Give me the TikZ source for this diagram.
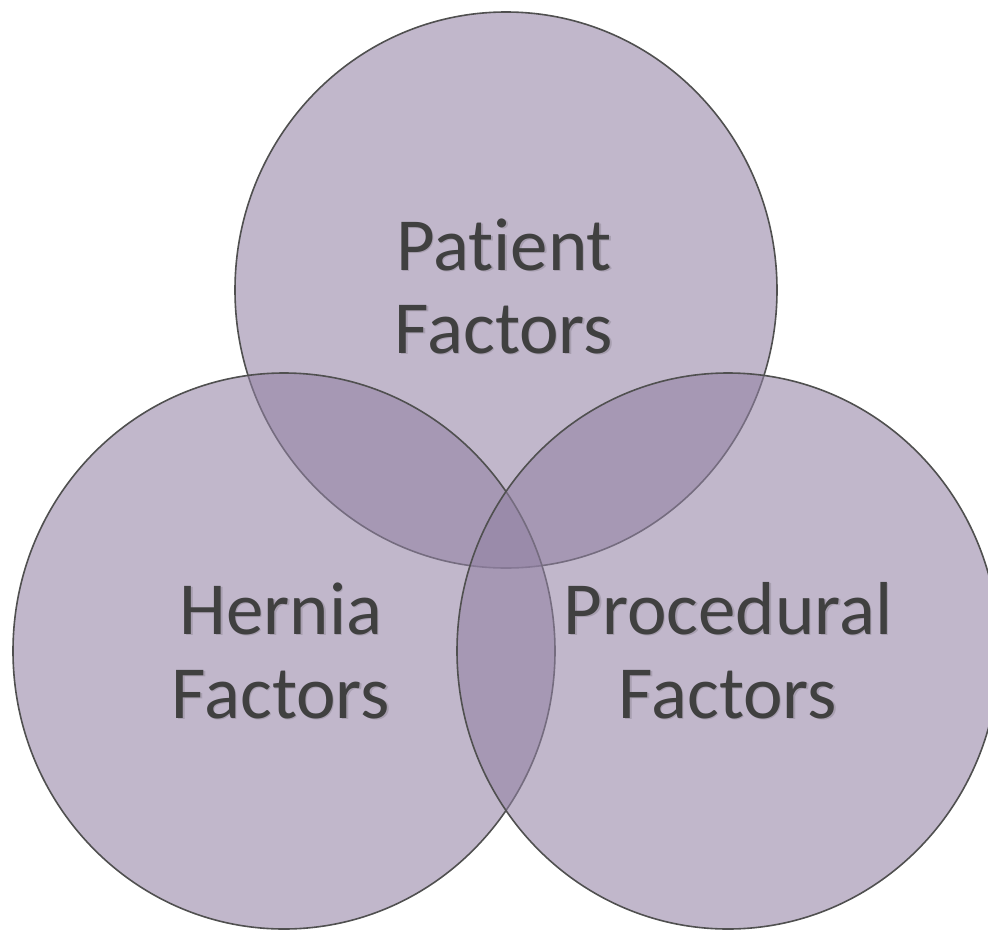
\documentclass[tikz,border=0pt]{standalone}
\usepackage{fontspec}
\setmainfont{Carlito}[Ligatures=NoCommon]
\usetikzlibrary{shapes.geometric}
\definecolor{vennfill}{RGB}{146,130,164}
\definecolor{vennline}{RGB}{80,80,80}
\definecolor{venntext}{RGB}{64,64,64}
\tikzset{
  venn/.style={ellipse, minimum width=542pt, minimum height=556pt, inner sep=0pt,
    fill=vennfill, fill opacity=0.57, draw=vennline, draw opacity=1, line width=1.6pt},
  lbl/.style={anchor=base, inner sep=0pt, text=venntext, font=\fontsize{75}{86}\selectfont},
  lblshadow/.style={anchor=base, inner sep=0pt, text=black, text opacity=0.13, font=\fontsize{75}{86}\selectfont}
}
\begin{document}
\begin{tikzpicture}[x=1pt,y=-1pt]
\useasboundingbox (0,0) rectangle (988,932);
\clip (0,0) rectangle (988,932);
\fill[white] (0,0) rectangle (988,932);
\node[venn] (top) at (506,290) {};
\node[venn] (left) at (284,651) {};
\node[venn] (right) at (728,651) {};
% text shadows
\node[lblshadow] (s1) at (505.5,271.5) {Patient};
\node[lblshadow] (s2) at (505.5,354.5) {Factors};
\node[lblshadow] (s3) at (282.5,635.5) {Hernia};
\node[lblshadow] (s4) at (282.5,719.5) {Factors};
\node[lblshadow] (s5) at (729.5,635.5) {Procedural};
\node[lblshadow] (s6) at (729.5,719.5) {Factors};
% labels
\node[lbl] (p1) at (504,270) {Patient};
\node[lbl] (p2) at (504,353) {Factors};
\node[lbl] (h1) at (281,634) {Hernia};
\node[lbl] (h2) at (281,718) {Factors};
\node[lbl] (r1) at (728,634) {Procedural};
\node[lbl] (r2) at (728,718) {Factors};
\end{tikzpicture}
\end{document}
